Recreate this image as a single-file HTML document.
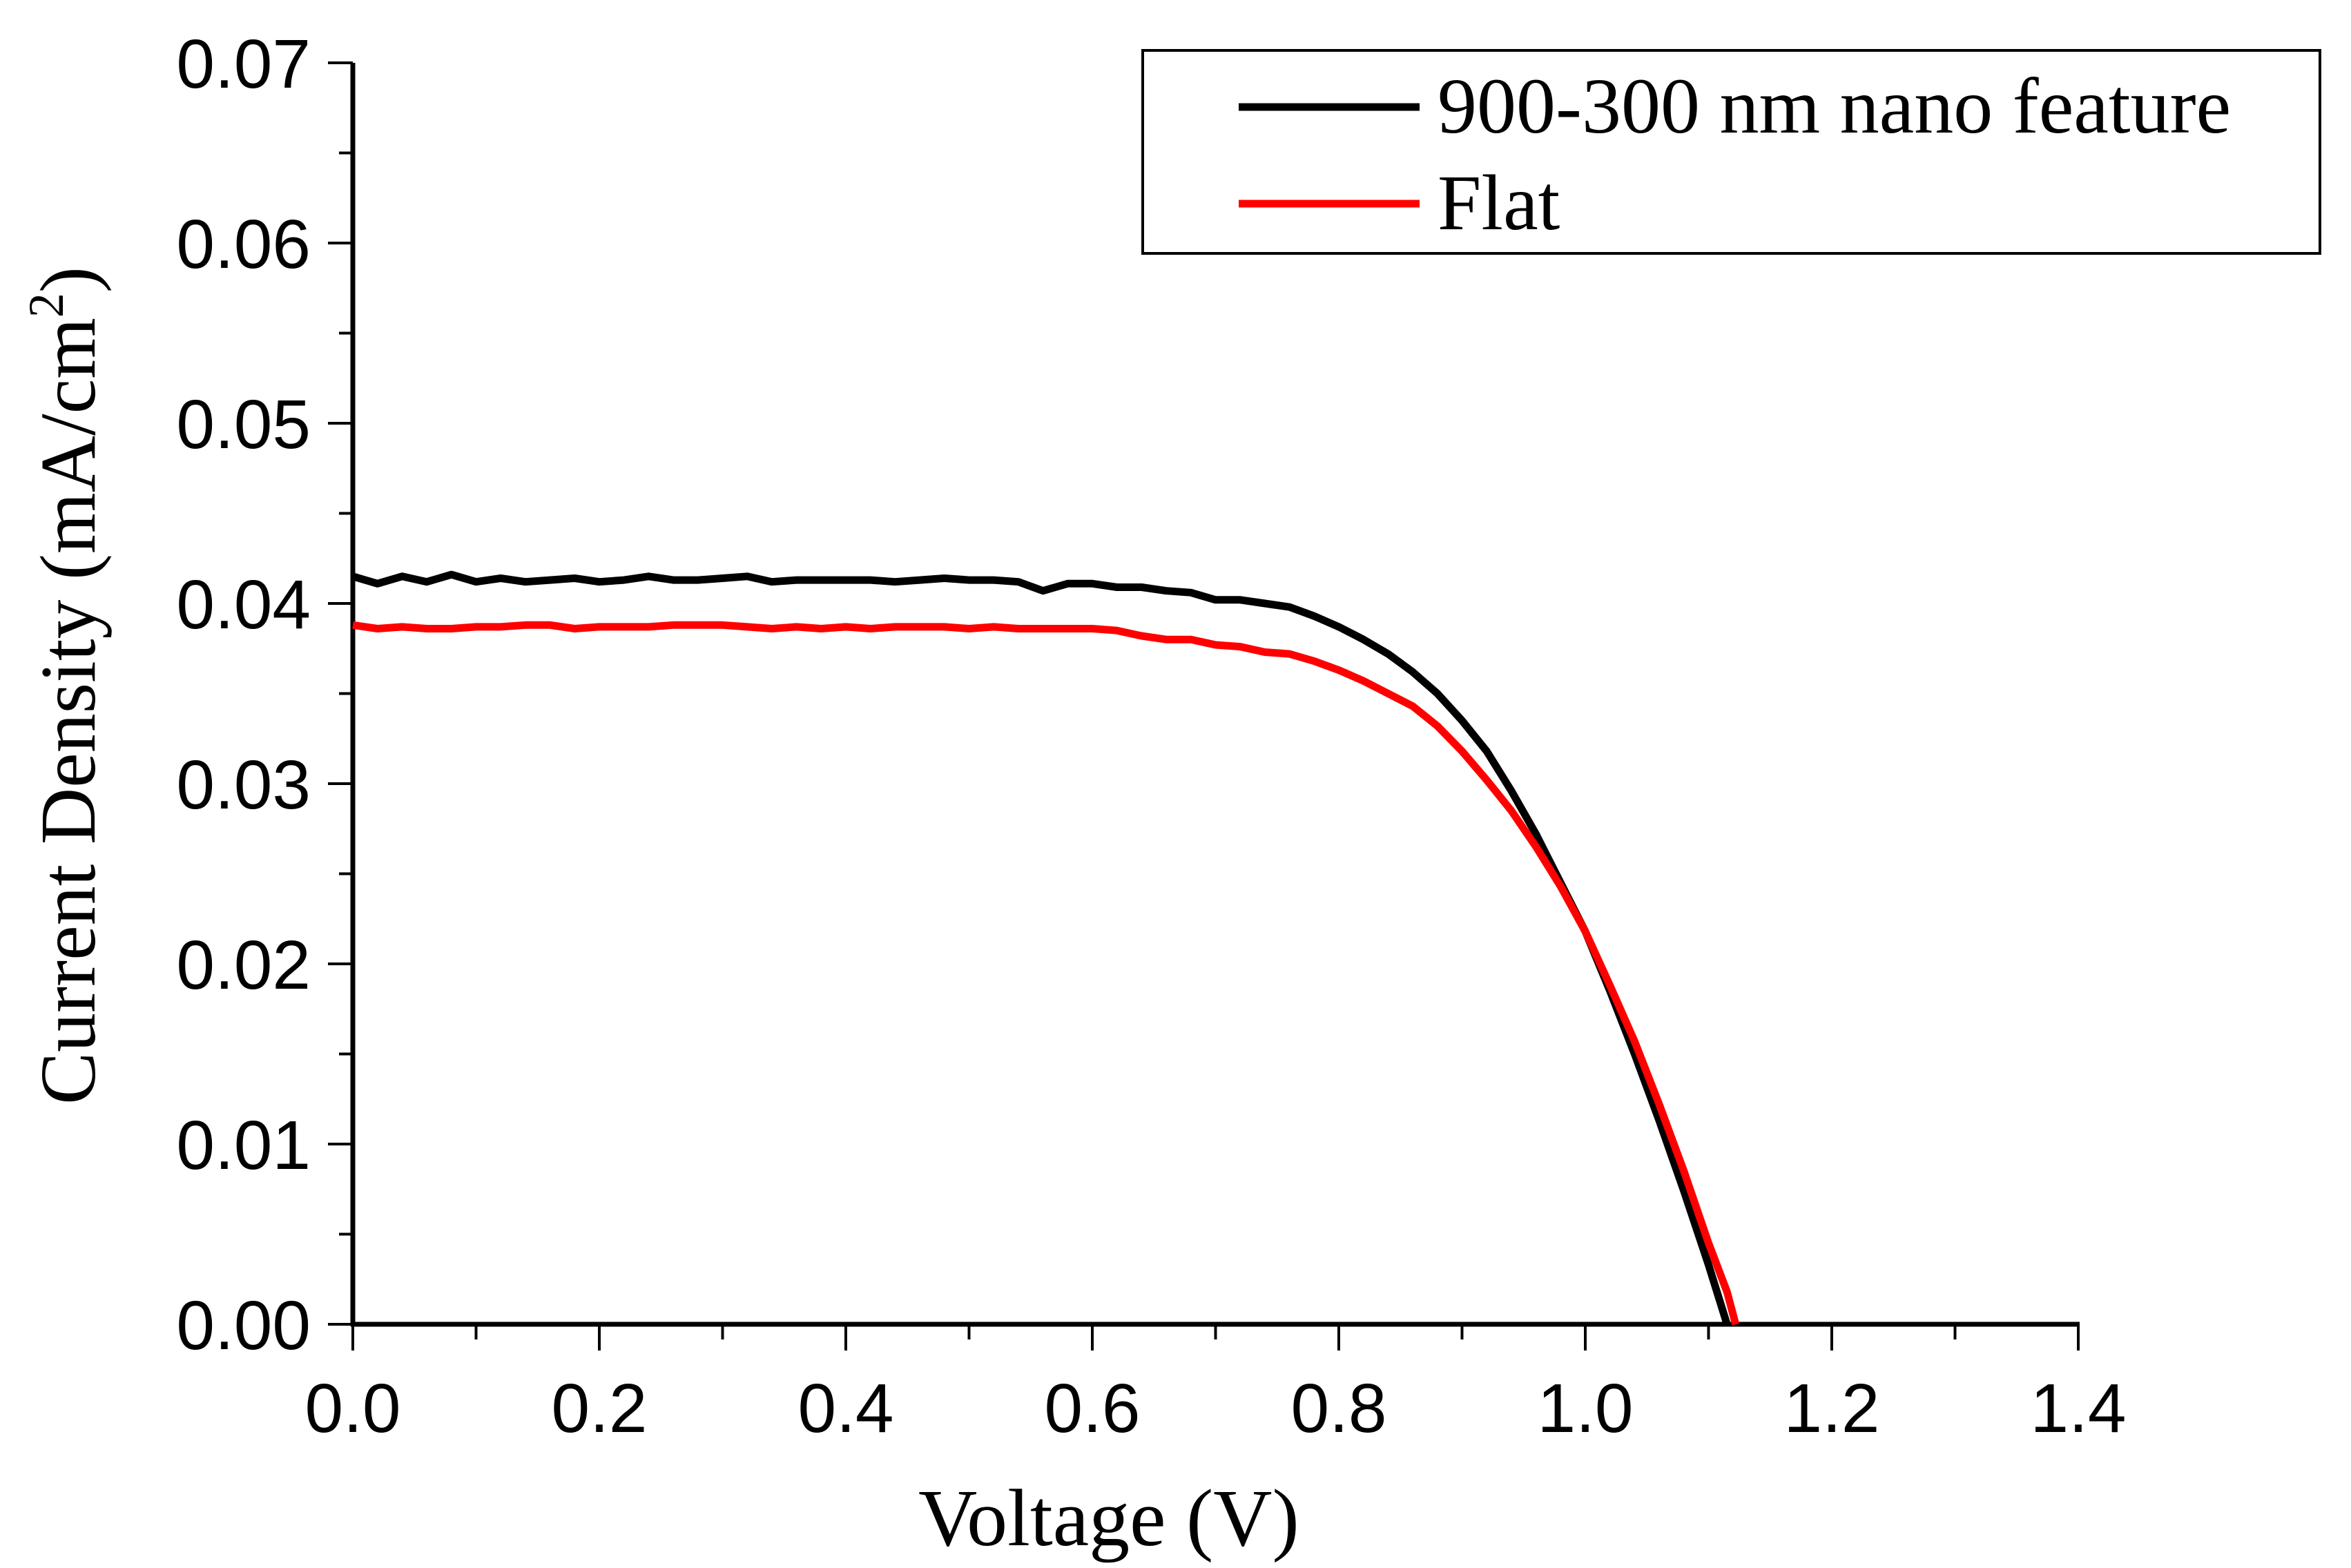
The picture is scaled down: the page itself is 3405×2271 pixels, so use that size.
<!DOCTYPE html>
<html><head><meta charset="utf-8"><style>
html,body{margin:0;padding:0;background:#fff;}
svg{display:block;}
.tick{font-family:"Liberation Sans",Arial,sans-serif;font-size:100px;fill:#000;}
.ser{font-family:"Liberation Serif","Times New Roman",serif;fill:#000;}
</style></head><body>
<svg id="chart" width="3405" height="2271" viewBox="0 0 3405 2271" xmlns="http://www.w3.org/2000/svg">
<g id="axes"></g>
<g id="series"></g>
<g>
<rect x="1655" y="73" width="1705" height="294" fill="#fff" stroke="#000" stroke-width="4"/>
<line x1="1794" y1="155" x2="2056" y2="155" stroke="#000" stroke-width="11"/>
<text class="ser" x="2082" y="192" font-size="114">900-300 nm nano feature</text>
<line x1="1794" y1="295" x2="2056" y2="295" stroke="#ff0000" stroke-width="11"/>
<text class="ser" x="2082" y="332" font-size="114">Flat</text>
</g>
<text class="ser" x="1606" y="2238" font-size="118" text-anchor="middle">Voltage (V)</text>
<text class="ser" font-size="114" text-anchor="middle" transform="translate(137,993) rotate(-90)">Current Density (mA/cm<tspan dy="-46" font-size="72">2</tspan><tspan dy="46">)</tspan></text>
</svg>
<script>
const xTicks=[0,0.2,0.4,0.6,0.8,1.0,1.2,1.4];
const xTickLabels=["0.0","0.2","0.4","0.6","0.8","1.0","1.2","1.4"];
const yTicks=[0,0.01,0.02,0.03,0.04,0.05,0.06,0.07];
const yTickLabels=["0.00","0.01","0.02","0.03","0.04","0.05","0.06","0.07"];
const voltage=[0,0.02,0.04,0.06,0.08,0.10,0.12,0.14,0.16,0.18,0.20,0.22,0.24,0.26,0.28,0.30,0.32,0.34,0.36,0.38,0.40,0.42,0.44,0.46,0.48,0.50,0.52,0.54,0.56,0.58,0.60,0.62,0.64,0.66,0.68,0.70,0.72,0.74,0.76,0.78,0.80,0.82,0.84,0.86,0.88,0.90,0.92,0.94,0.96,0.98,1.00,1.02,1.04,1.06,1.08,1.10,1.115,1.122];
const nanoJ=[0.0415,0.0411,0.0415,0.0412,0.0416,0.0412,0.0414,0.0412,0.0413,0.0414,0.0412,0.0413,0.0415,0.0413,0.0413,0.0414,0.0415,0.0412,0.0413,0.0413,0.0413,0.0413,0.0412,0.0413,0.0414,0.0413,0.0413,0.0412,0.0407,0.0411,0.0411,0.0409,0.0409,0.0407,0.0406,0.0402,0.0402,0.0400,0.0398,0.0393,0.0387,0.0380,0.0372,0.0362,0.0350,0.0335,0.0318,0.0296,0.0272,0.0245,0.0218,0.0185,0.0150,0.0113,0.0074,0.0033,0.0000,null];
const flatJ=[0.0388,0.0386,0.0387,0.0386,0.0386,0.0387,0.0387,0.0388,0.0388,0.0386,0.0387,0.0387,0.0387,0.0388,0.0388,0.0388,0.0387,0.0386,0.0387,0.0386,0.0387,0.0386,0.0387,0.0387,0.0387,0.0386,0.0387,0.0386,0.0386,0.0386,0.0386,0.0385,0.0382,0.0380,0.0380,0.0377,0.0376,0.0373,0.0372,0.0368,0.0363,0.0357,0.0350,0.0343,0.0332,0.0318,0.0302,0.0285,0.0265,0.0243,0.0218,0.0188,0.0157,0.0122,0.0085,0.0045,0.0018,0.0000];
const X0=511,X1=3010,Y0=1918,Y1=91;
function sx(v){return X0+(v-0)/(1.4-0)*(X1-X0);}
function sy(v){return Y0-(v-0)/(0.07-0)*(Y0-Y1);}
const NS="http://www.w3.org/2000/svg";
const axes=document.getElementById('axes');
function mk(tag,attrs,parent){const e=document.createElementNS(NS,tag);for(const k in attrs)e.setAttribute(k,attrs[k]);parent.appendChild(e);return e;}
let e;
e=mk('line',{x1:X0,y1:Y1,x2:X0,y2:Y0+3,stroke:'#000','stroke-width':7},axes);


e=mk('line',{x1:X0-3,y1:Y0,x2:X1+2,y2:Y0,stroke:'#000','stroke-width':7},axes);


for(let i=0;i<xTicks.length;i++){
  const x=sx(xTicks[i]);
  e=mk('line',{x1:x,y1:Y0,x2:x,y2:Y0+38,stroke:'#000','stroke-width':4},axes);
  
  
  e=mk('text',{x:x,y:2074,'text-anchor':'middle',class:'tick'},axes);
  e.textContent=xTickLabels[i];
  
  
  if(i<xTicks.length-1){
    const xm=sx((xTicks[i]+xTicks[i+1])/2);
    e=mk('line',{x1:xm,y1:Y0,x2:xm,y2:Y0+22,stroke:'#000','stroke-width':4},axes);
    
    
  }
}
for(let i=0;i<yTicks.length;i++){
  const y=sy(yTicks[i]);
  e=mk('line',{x1:X0-36,y1:y,x2:X0,y2:y,stroke:'#000','stroke-width':4},axes);
  
  
  e=mk('text',{x:450,y:y+36,'text-anchor':'end',class:'tick'},axes);
  e.textContent=yTickLabels[i];
  
  
  if(i<yTicks.length-1){
    const ym=sy((yTicks[i]+yTicks[i+1])/2);
    e=mk('line',{x1:X0-20,y1:ym,x2:X0,y2:ym,stroke:'#000','stroke-width':4},axes);
    
    
  }
}
const ser=document.getElementById('series');
function pathFor(arr){let d='';let first=true;for(let i=0;i<voltage.length;i++){if(arr[i]===null)continue;d+=(first?'M':'L')+sx(voltage[i]).toFixed(1)+','+sy(arr[i]).toFixed(1);first=false;}return d;}
e=mk('path',{d:pathFor(nanoJ),fill:'none',stroke:'#000','stroke-width':11,'stroke-linejoin':'round'},ser);


e=mk('path',{d:pathFor(flatJ),fill:'none',stroke:'#ff0000','stroke-width':11,'stroke-linejoin':'round'},ser);


</script>
</body></html>
